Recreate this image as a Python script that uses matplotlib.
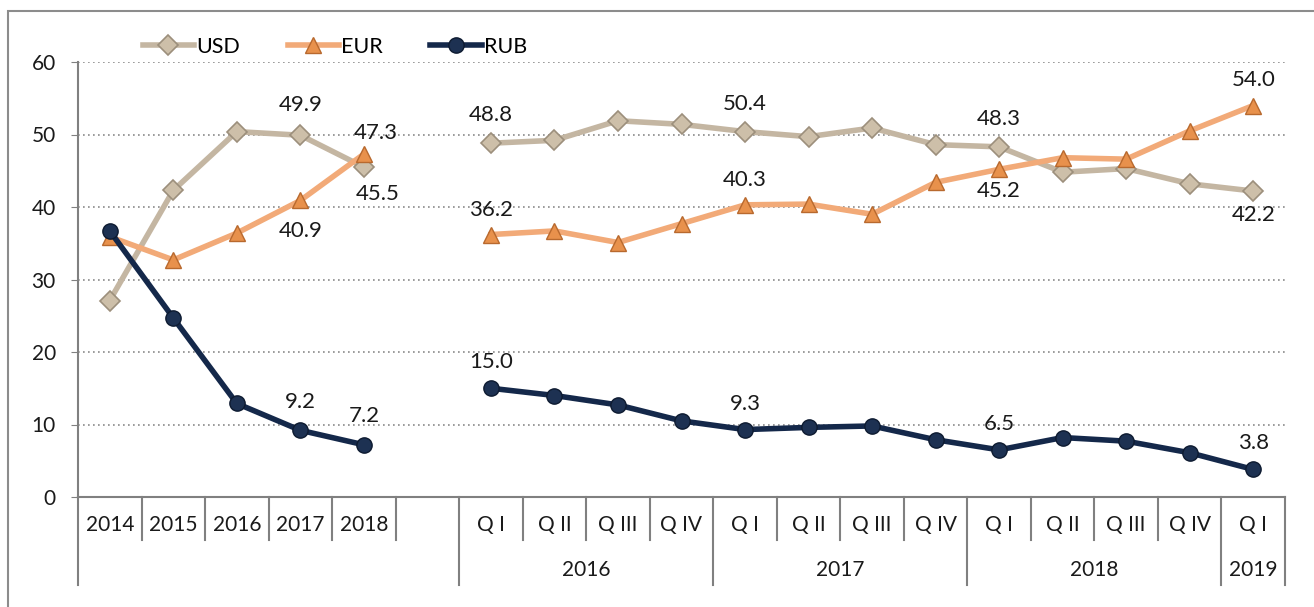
import matplotlib
matplotlib.use("Agg")
import matplotlib.pyplot as plt
from matplotlib.patches import Rectangle
import numpy as np

plt.rcParams["font.family"] = ["Lato", "DejaVu Sans"]

# Données
annees = ["2014", "2015", "2016", "2017", "2018"]
trimestres = ["Q I", "Q II", "Q III", "Q IV"] * 3 + ["Q I"]
groupes = ["2016", "2017", "2018", "2019"]

usd_an = [27.1, 42.3, 50.4, 49.9, 45.5]
eur_an = [35.9, 32.7, 36.4, 40.9, 47.3]
rub_an = [36.7, 24.7, 12.9, 9.2, 7.2]

usd_tr = [48.8, 49.2, 51.9, 51.4, 50.4, 49.7, 50.9, 48.6, 48.3, 44.8, 45.3, 43.2, 42.2]
eur_tr = [36.2, 36.7, 35.1, 37.7, 40.3, 40.4, 39.0, 43.4, 45.2, 46.8, 46.6, 50.5, 54.0]
rub_tr = [15.0, 14.0, 12.7, 10.5, 9.3, 9.6, 9.8, 7.9, 6.5, 8.2, 7.7, 6.1, 3.8]

x_an = np.arange(5)
x_tr = np.arange(6, 19)

W, H = 1314, 607
fig = plt.figure(figsize=(W / 100, H / 100), dpi=100)
ax = fig.add_axes([78 / W, 1 - 497 / H, (1285 - 78) / W, (497 - 62) / H])

# cadre
fig.patches.append(Rectangle((8 / W, -0.1), 1.2, 1 - 11 / H + 0.1, transform=fig.transFigure,
                             fill=False, edgecolor="#8c8c8c", linewidth=1.5))

styles = {
    "USD": dict(color="#c4b6a2", marker="D", markersize=10, markerfacecolor="#cdbfa9",
                markeredgecolor="#9c8f7c", markeredgewidth=1.2),
    "EUR": dict(color="#f2aa78", marker="^", markersize=12, markerfacecolor="#e8914c",
                markeredgecolor="#b8692e", markeredgewidth=1.0),
    "RUB": dict(color="#14284a", marker="o", markersize=11, markerfacecolor="#1d3152",
                markeredgecolor="#0d1a30", markeredgewidth=1.0),
}
series = {"USD": (usd_an, usd_tr), "EUR": (eur_an, eur_tr), "RUB": (rub_an, rub_tr)}

for nom, (an, tr) in series.items():
    ax.plot(x_an, an, linewidth=4, label=nom, zorder=3, **styles[nom])
    ax.plot(x_tr, tr, linewidth=4, zorder=3, **styles[nom])

# étiquettes de valeurs (x, y, dx, dy en pixels)
etiquettes = [
    (3, usd_an[3], 0, 30), (4, usd_an[4], 14, -27),
    (3, eur_an[3], 0, -31), (4, eur_an[4], 12, 21),
    (3, rub_an[3], 0, 28), (4, rub_an[4], 0, 29),
]
for i in (0, 4, 8, 12):
    etiquettes.append((x_tr[i], usd_tr[i], 0, -24 if i == 12 else 28))
    etiquettes.append((x_tr[i], eur_tr[i], 0, -22 if i == 8 else 25))
    etiquettes.append((x_tr[i], rub_tr[i], 0, 26))
for x, y, dx, dy in etiquettes:
    ax.annotate(f"{y:.1f}", (x, y), xytext=(dx * 0.72, dy * 0.72), textcoords="offset points",
                ha="center", va="center", fontsize=16, color="#1a1a1a", zorder=4)

ax.set_xlim(-0.5, 18.5)
ax.set_ylim(0, 60)
ax.set_yticks(range(0, 61, 10))
ax.tick_params(axis="y", length=5, color="#808080", labelsize=15, pad=11, labelcolor="#1a1a1a")
ax.set_xticks([])
for s in ("top", "right"):
    ax.spines[s].set_visible(False)
ax.spines["left"].set_color("#808080")
ax.spines["bottom"].set_color("#808080")
ax.spines["left"].set_linewidth(1.5)
ax.spines["bottom"].set_linewidth(1.5)
ax.spines["left"].set_bounds(0, 60)
ax.yaxis.grid(True, linestyle=(0, (1, 2)), color="#8a8a8a", linewidth=1.2)
ax.set_axisbelow(True)

# axe des catégories à deux niveaux
tr = ax.get_xaxis_transform()
y_court = -43 / 435
y_long = -88 / 435
for b in [0.5, 1.5, 2.5, 3.5, 4.5, 6.5, 7.5, 8.5, 10.5, 11.5, 12.5, 14.5, 15.5, 16.5]:
    ax.plot([b, b], [0, y_court], transform=tr, color="#808080", lw=1.5, clip_on=False)
for b in [-0.5, 5.5, 9.5, 13.5, 17.5, 18.5]:
    ax.plot([b, b], [0, y_long], transform=tr, color="#808080", lw=1.5, clip_on=False)
for x, lab in zip(x_an, annees):
    ax.text(x, -28 / 435, lab, transform=tr, ha="center", va="center", fontsize=15, color="#1a1a1a")
for x, lab in zip(x_tr, trimestres):
    ax.text(x, -28 / 435, lab, transform=tr, ha="center", va="center", fontsize=15, color="#1a1a1a")
for c, lab in zip([7.5, 11.5, 15.5, 18], groupes):
    ax.text(c, -73 / 435, lab, transform=tr, ha="center", va="center", fontsize=15, color="#1a1a1a")

leg = ax.legend(loc="center left", bbox_to_anchor=(134 / W, 1 - 47 / H), bbox_transform=fig.transFigure,
                ncol=3, frameon=False, fontsize=15.5, handlelength=2.4, handletextpad=0.1,
                columnspacing=2.2, borderaxespad=0)

fig.savefig("out.png", dpi=100)
